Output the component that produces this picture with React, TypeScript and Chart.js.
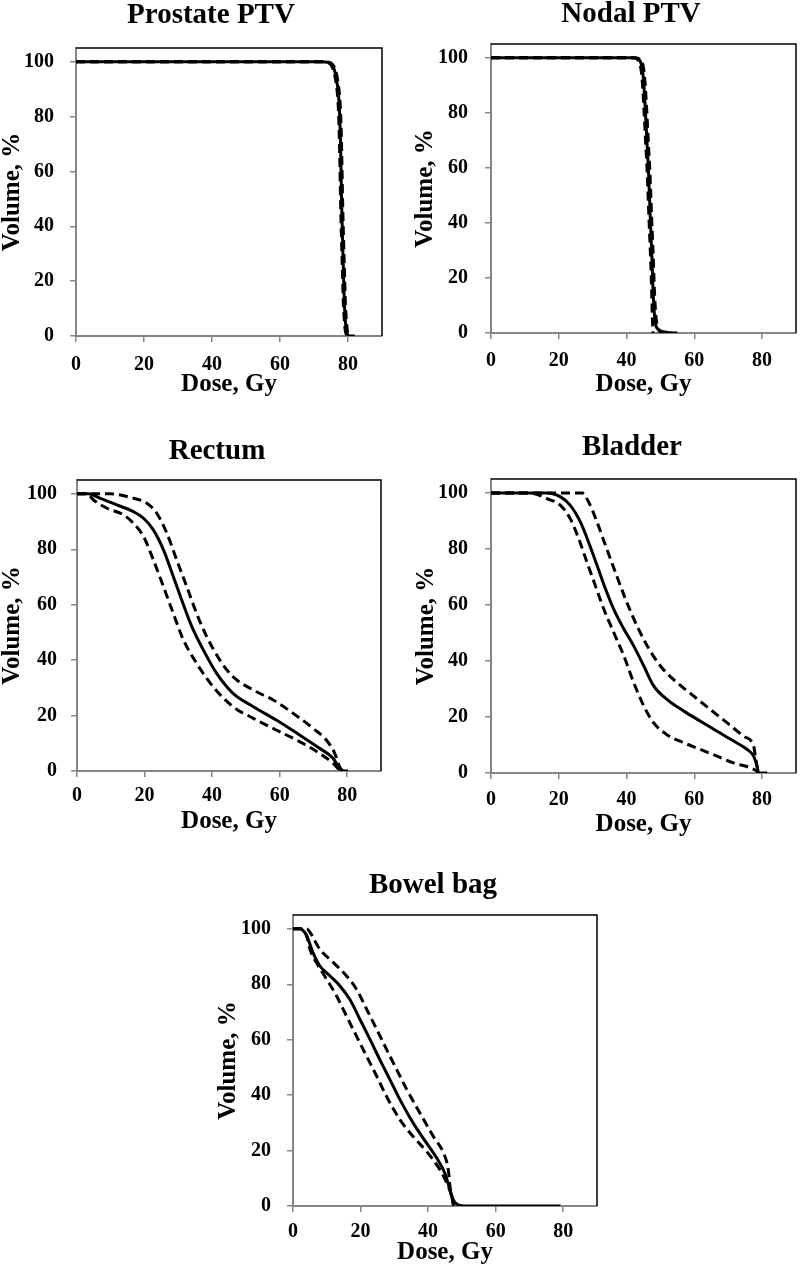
import React, { useEffect, useRef } from "react";
import { Chart, registerables } from "chart.js";

Chart.register(...registerables);

// ---------------- DATA ----------------
// Prostate PTV
const prostateMeanDose = [0, 72, 74, 75, 76, 76.7, 77.2, 77.5, 77.8, 78.1, 78.4, 78.7, 78.9, 79.2, 79.5, 80, 81, 82];
const prostateMeanVol = [100, 100, 99.8, 99.2, 97, 93, 88, 82, 70, 50, 35, 22, 13, 6, 2, 0.3, 0, 0];
const prostateUpperDose = [0, 72, 74.3, 75.3, 76.3, 77, 77.5, 77.8, 78.1, 78.4, 78.7, 79, 79.2, 79.5, 79.8, 80.3, 81];
const prostateUpperVol = [100, 100, 99.8, 99.2, 97, 93, 88, 82, 70, 50, 35, 22, 13, 6, 2, 0.3, 0];
const prostateLowerDose = [0, 72, 73.7, 74.7, 75.7, 76.4, 76.9, 77.2, 77.5, 77.8, 78.1, 78.4, 78.6, 78.9, 79.2, 79.7, 80.5];
const prostateLowerVol = [100, 100, 99.8, 99.2, 97, 93, 88, 82, 70, 50, 35, 22, 13, 6, 2, 0.3, 0];

// Nodal PTV
const nodalMeanDose = [0, 42, 43.5, 44.5, 45, 45.5, 46, 46.5, 47, 47.5, 47.8, 48.2, 48.6, 49.2, 50, 52, 55];
const nodalMeanVol = [100, 100, 99.5, 97, 92, 82, 70, 58, 42, 27, 16, 7, 3, 1.5, 0.8, 0.2, 0];
const nodalUpperDose = [0, 42.4, 43.9, 44.9, 45.4, 45.9, 46.4, 46.9, 47.4, 47.9, 48.2, 48.6, 49, 49.5, 50.5];
const nodalUpperVol = [100, 100, 99.5, 97, 92, 82, 70, 58, 42, 27, 16, 7, 3, 1, 0];
const nodalLowerDose = [0, 41.6, 43.1, 44.1, 44.6, 45.1, 45.6, 46.1, 46.6, 47.1, 47.4, 47.6, 47.8];
const nodalLowerVol = [100, 100, 99.5, 97, 92, 82, 70, 58, 42, 27, 16, 6, 0];

// Rectum
const rectumMeanDose = [0, 3.4, 6.9, 11.8, 16.7, 19.7, 22.6, 25.6, 28.5, 31, 34, 37.4, 41.3, 46.2, 52.2, 59, 65.9, 71.8, 75.8, 77.7, 78.7, 80.2];
const rectumMeanVol = [100, 100, 98.4, 96, 93.6, 91.2, 87, 79.8, 70.2, 61.7, 52.1, 43.7, 35.3, 28, 23.2, 18.4, 13, 8.2, 4.6, 1, 0, 0];
const rectumUpperDose = [0, 9.8, 16.7, 20.7, 23.6, 26.6, 29.5, 32.5, 35.4, 38.4, 42.3, 46.2, 52.2, 58.1, 64, 69.9, 73.8, 76.3, 77.7, 78.7];
const rectumUpperVol = [100, 100, 98.4, 96.6, 93, 85.8, 76.2, 66.5, 56.9, 48.5, 40, 34, 29.2, 25.6, 20.8, 15.4, 11.2, 6.4, 1.6, 0];
const rectumLowerDose = [0, 3, 4.9, 8.9, 13.8, 16.7, 19.7, 22.6, 25.6, 28.5, 31.5, 35.4, 40.3, 46.2, 52.2, 59, 65.9, 71.8, 75.8, 77.7, 78.2];
const rectumLowerVol = [100, 100, 97.8, 94.8, 92.4, 89.4, 84.6, 76.2, 66.5, 56.9, 47.3, 38.9, 30.4, 23.2, 19, 14.8, 10.6, 6.4, 2.8, 0.4, 0];

// Bladder
const bladderMeanDose = [0, 16.5, 20.5, 23.4, 26.4, 28.8, 31.3, 33.8, 36.2, 39.2, 42.1, 45.1, 48, 51.9, 56.9, 61.8, 66.7, 71.6, 75.6, 77.5, 78.5, 79, 81.5];
const bladderMeanVol = [100, 100, 98.6, 95.6, 89.6, 82.4, 74.1, 65.7, 58.5, 51.4, 45.4, 38.2, 31.1, 26.3, 22.1, 18.5, 14.9, 11.4, 8.4, 6, 2.4, 0, 0];
const bladderUpperDose = [0, 26.9, 28.8, 31.3, 33.8, 36.7, 39.7, 42.6, 46.1, 50, 54.9, 59.8, 64.7, 69.7, 74.6, 77.5, 78, 78.5, 79];
const bladderUpperVol = [100, 100, 96.8, 89.6, 81.2, 71.7, 62.1, 53.8, 45.4, 38.2, 32.3, 27.5, 22.7, 17.9, 13.1, 9.6, 6, 2.4, 0];
const bladderLowerDose = [0, 10, 12.6, 16.5, 20.5, 23.4, 25.9, 28.3, 30.8, 33.3, 36.2, 39.2, 42.1, 45.1, 48, 51.9, 56.9, 61.8, 66.7, 71.6, 76.6, 78.5, 79];
const bladderLowerVol = [100, 100, 99.8, 98, 95.6, 90.8, 83.6, 75.3, 66.9, 58.5, 50.2, 41.8, 32.3, 23.9, 17.9, 13.7, 10.8, 8.4, 6, 3.6, 1.8, 0.6, 0];

// Bowel bag
const bowelMeanDose = [0, 2, 4, 5.9, 7.9, 10.9, 13.9, 16.8, 19.8, 22.8, 25.7, 28.7, 31.7, 35.6, 39.6, 42.6, 45, 46.5, 47.5, 49.5, 52, 79.2];
const bowelMeanVol = [100, 100, 97.6, 91.5, 86.7, 83.1, 79.4, 74.6, 67.4, 60.1, 52.8, 45.6, 38.3, 29.9, 22.6, 17.2, 11.7, 5.7, 2.1, 0.2, 0, 0];
const bowelUpperDose = [0, 4, 5, 7.9, 11.9, 15.8, 18.8, 21.8, 24.8, 27.7, 30.7, 33.7, 37.6, 41.6, 44.6, 46, 46.5, 47.5, 48];
const bowelUpperVol = [100, 100, 98.8, 92.7, 87.9, 83.1, 78.2, 71, 63.7, 56.5, 49.2, 42, 33.5, 25, 19, 12.9, 6.9, 0.8, 0];
const bowelLowerDose = [0, 2.5, 4, 5, 6.9, 9.9, 12.9, 15.8, 18.8, 21.8, 24.8, 27.7, 31.7, 35.6, 39.6, 43.6, 46, 47, 47.5];
const bowelLowerVol = [100, 100, 97.6, 92.7, 87.9, 81.9, 75.8, 68.6, 61.3, 54, 46.8, 39.5, 31.1, 25, 19.6, 12.9, 6.9, 3.3, 0];

const panelTitles = ["Prostate PTV", "Nodal PTV", "Rectum", "Bladder", "Bowel bag"];
const xAxisTitle = "Dose, Gy";
const yAxisTitle = "Volume, %";
const xMin = 0, xMax = 90, xStep = 20;
const yMin = 0, yMax = 105, yStep = 20;

// ---------------- STYLE / LAYOUT ----------------
const FONT = "'Liberation Serif', 'Times New Roman', serif";
const TITLE_SIZE = 29;
const AXIS_TITLE_SIZE = 25;
const TICK_SIZE = 20;
const TICK_LEN = 6;
const AXIS_GRAY = "#868686";

// cl/ct/cb: canvas left/top/bottom; l,t,r,b: plot area; other fields: text centres
type Layout = {
  cl: number; ct: number; cb: number;
  l: number; t: number; r: number; b: number;
  titleCx: number; titleCy: number; yTitleCx: number; xTitleCy: number; xTickCy: number; yTickRight: number;
};

const layouts: Layout[] = [
  { cl: -4, ct: -4, cb: 410, l: 76, t: 48, r: 382, b: 336, titleCx: 211, titleCy: 16, yTitleCx: 13, xTitleCy: 385, xTickCy: 365, yTickRight: 54 },
  { cl: 405, ct: -4, cb: 410, l: 491, t: 44, r: 796, b: 333, titleCx: 631, titleCy: 15, yTitleCx: 426, xTitleCy: 385, xTickCy: 361, yTickRight: 468 },
  { cl: -4, ct: 420, cb: 850, l: 77, t: 480, r: 381, b: 771, titleCx: 217, titleCy: 452, yTitleCx: 13, xTitleCy: 822, xTickCy: 796, yTickRight: 57 },
  { cl: 405, ct: 420, cb: 850, l: 491, t: 479, r: 796, b: 773, titleCx: 632, titleCy: 448, yTitleCx: 427, xTitleCy: 825, xTickCy: 800, yTickRight: 468 },
  { cl: 205, ct: 850, cb: 1273, l: 293, t: 915, r: 597, b: 1206, titleCx: 433, titleCy: 886, yTitleCx: 229, xTitleCy: 1253, xTickCy: 1232, yTickRight: 271 },
];

type Series = { dose: number[]; vol: number[] };
const panelSeries: Series[][] = [
  [
    { dose: prostateMeanDose, vol: prostateMeanVol },
    { dose: prostateUpperDose, vol: prostateUpperVol },
    { dose: prostateLowerDose, vol: prostateLowerVol },
  ],
  [
    { dose: nodalMeanDose, vol: nodalMeanVol },
    { dose: nodalUpperDose, vol: nodalUpperVol },
    { dose: nodalLowerDose, vol: nodalLowerVol },
  ],
  [
    { dose: rectumMeanDose, vol: rectumMeanVol },
    { dose: rectumUpperDose, vol: rectumUpperVol },
    { dose: rectumLowerDose, vol: rectumLowerVol },
  ],
  [
    { dose: bladderMeanDose, vol: bladderMeanVol },
    { dose: bladderUpperDose, vol: bladderUpperVol },
    { dose: bladderLowerDose, vol: bladderLowerVol },
  ],
  [
    { dose: bowelMeanDose, vol: bowelMeanVol },
    { dose: bowelUpperDose, vol: bowelUpperVol },
    { dose: bowelLowerDose, vol: bowelLowerVol },
  ],
];

const framePlugin = {
  id: "frameTopRight",
  afterDraw(chart: any) {
    const { ctx, chartArea } = chart;
    const { left, top, right, bottom } = chartArea;
    ctx.save();
    ctx.strokeStyle = "#000";
    ctx.lineWidth = 1.5;
    ctx.beginPath();
    ctx.moveTo(left, top);
    ctx.lineTo(right, top);
    ctx.lineTo(right, bottom);
    ctx.stroke();
    ctx.restore();
  },
};

function Panel({ idx }: { idx: number }) {
  const ref = useRef<HTMLCanvasElement>(null);
  const L = layouts[idx];
  // canvas is symmetric around the title centre so the full-width title lands there
  const cr = 2 * L.titleCx - L.cl;
  const W = Math.round(cr - L.cl);
  const H = Math.round(L.cb - L.ct);

  useEffect(() => {
    if (!ref.current) return;
    const yW = L.l - L.cl;
    const rightW = L.cl + W - L.r;
    const xH = L.cb - L.b;
    const titleLH = TITLE_SIZE * 1.2;
    const titlePt = L.titleCy - L.ct - titleLH / 2;
    const titlePb = L.t - L.ct - titlePt - titleLH;
    const axLH = AXIS_TITLE_SIZE * 1.2;
    const yTitlePad = L.yTitleCx - L.cl - axLH / 2;
    const xTitlePb = L.cb - L.xTitleCy - axLH / 2;
    const tickLH = TICK_SIZE * 1.2;
    const xTickPad = L.xTickCy - L.b - TICK_LEN - tickLH / 2;
    const yTickPad = L.l - TICK_LEN - L.yTickRight;

    const series = panelSeries[idx];
    const datasets = series.map((s, i) => ({
      data: s.dose.map((d, k) => ({ x: d, y: s.vol[k] })),
      borderColor: "#000",
      backgroundColor: "#000",
      borderWidth: 3,
      borderDash: i === 0 ? [] : [9, 5],
      pointRadius: 0,
      fill: false,
      cubicInterpolationMode: "monotone" as const,
    }));

    const tickFont = { family: FONT, size: TICK_SIZE, weight: "bold" as const, lineHeight: 1.2 };
    const axisFont = { family: FONT, size: AXIS_TITLE_SIZE, weight: "bold" as const, lineHeight: 1.2 };

    const chart = new Chart(ref.current, {
      type: "line",
      data: { datasets },
      plugins: [framePlugin],
      options: {
        animation: false,
        responsive: false,
        devicePixelRatio: 1,
        events: [],
        layout: { padding: 0 },
        plugins: {
          legend: { display: false },
          tooltip: { enabled: false },
          title: {
            display: true,
            text: panelTitles[idx],
            color: "#000",
            font: { family: FONT, size: TITLE_SIZE, weight: "bold", lineHeight: 1.2 },
            padding: { top: titlePt, bottom: titlePb },
          },
        },
        scales: {
          x: {
            type: "linear",
            min: xMin,
            max: xMax,
            afterFit: (scale: any) => { scale.height = xH; },
            ticks: { stepSize: xStep, includeBounds: false, color: "#000", font: tickFont, padding: xTickPad, maxRotation: 0, autoSkip: false },
            grid: { display: true, drawOnChartArea: false, drawTicks: true, tickLength: TICK_LEN, color: AXIS_GRAY, lineWidth: 1.5 },
            border: { display: true, color: AXIS_GRAY, width: 2 },
            title: { display: true, text: xAxisTitle, color: "#000", font: axisFont, padding: { top: 0, bottom: xTitlePb } },
          },
          y: {
            type: "linear",
            position: "left",
            min: yMin,
            max: yMax,
            afterFit: (scale: any) => { scale.width = yW; },
            ticks: { stepSize: yStep, includeBounds: false, color: "#000", font: tickFont, padding: yTickPad, autoSkip: false },
            grid: { display: true, drawOnChartArea: false, drawTicks: true, tickLength: TICK_LEN, color: AXIS_GRAY, lineWidth: 1.5 },
            border: { display: true, color: AXIS_GRAY, width: 2 },
            title: { display: true, text: yAxisTitle, color: "#000", font: axisFont, padding: { top: yTitlePad, bottom: 0 } },
          },
          yRightSpace: {
            type: "linear",
            position: "right",
            min: yMin,
            max: yMax,
            afterFit: (scale: any) => { scale.width = rightW; },
            ticks: { display: false },
            grid: { display: false, drawTicks: false },
            border: { display: false },
            title: { display: false },
          },
        },
      } as any,
    });
    return () => chart.destroy();
  }, []);

  return (
    <canvas
      ref={ref}
      width={W}
      height={H}
      style={{ position: "absolute", left: L.cl, top: L.ct, width: W, height: H }}
    />
  );
}

export default function App() {
  return (
    <div style={{ position: "absolute", left: 0, top: 0, width: 800, height: 1273, background: "#fff", overflow: "hidden" }}>
      {layouts.map((_, i) => (
        <Panel key={i} idx={i} />
      ))}
    </div>
  );
}
